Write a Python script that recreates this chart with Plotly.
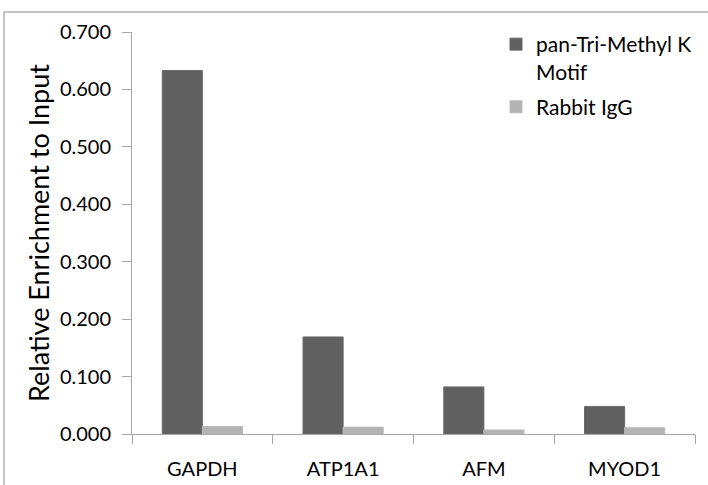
import plotly.graph_objects as go

categories = ["GAPDH", "ATP1A1", "AFM", "MYOD1"]
series_names = ["pan-Tri-Methyl K<br>Motif", "Rabbit IgG"]
pan_tri_methyl = [0.633, 0.169, 0.082, 0.048]
rabbit_igg = [0.013, 0.012, 0.007, 0.011]
y_ticks = [0.0, 0.1, 0.2, 0.3, 0.4, 0.5, 0.6, 0.7]
y_tick_labels = ["0.000", "0.100", "0.200", "0.300", "0.400", "0.500", "0.600", "0.700"]

FONT = "Lato"
AXIS_COLOR = "#a6a6a6"

fig = go.Figure()
fig.add_trace(go.Bar(x=categories, y=pan_tri_methyl, name=series_names[0], legendgroup="g1",
                     marker=dict(color="#606060", line=dict(color="#6a6a6a", width=1))))
fig.add_trace(go.Bar(x=categories, y=rabbit_igg, name=series_names[1], legendgroup="g2",
                     marker=dict(color="#b3b3b3", line=dict(color="#bbbbbb", width=1))))

L, R, T, B = 132, 13, 32, 51
W, H = 708, 485
pw = W - L - R
ph = H - T - B

fig.update_layout(
    width=W, height=H,
    margin=dict(l=L, r=R, t=T, b=B, pad=0, autoexpand=False),
    paper_bgcolor="white", plot_bgcolor="white",
    barmode="group", bargap=0.43, bargroupgap=0,
    font=dict(family=FONT, color="#000000", size=20),
    showlegend=True,
    legend=dict(x=(496 - L) / pw, y=(H - B - 24) / ph, xanchor="left", yanchor="top",
                font=dict(family=FONT, size=21, color="#000000"),
                bgcolor="rgba(0,0,0,0)", valign="top", tracegroupgap=5,
                itemwidth=30),
    xaxis=dict(type="category", showline=True, linecolor=AXIS_COLOR, linewidth=1,
               ticks="outside", tickson="boundaries", ticklen=9, tickcolor=AXIS_COLOR,
               tickfont=dict(family=FONT, size=20), showgrid=False, zeroline=False,
               ticklabelstandoff=17, automargin=False),
    yaxis=dict(range=[0, 0.7], tickvals=y_ticks, ticktext=y_tick_labels,
               showline=True, linecolor=AXIS_COLOR, linewidth=1,
               ticks="outside", ticklen=9, tickcolor=AXIS_COLOR,
               tickfont=dict(family=FONT, size=20), showgrid=False, zeroline=False,
               ticklabelstandoff=7, automargin=False,
               title=dict(text="Relative Enrichment to Input",
                          font=dict(family=FONT, size=27), standoff=2)),
)

# outer frame (top and left edges visible)
x0 = (4 - L) / pw
x1 = (W - L) / pw
ytop = (H - B - 12) / ph
ybot = (H - B - H) / ph
fig.add_shape(type="line", xref="paper", yref="paper", x0=x0, x1=x1, y0=ytop, y1=ytop,
              line=dict(color="#8c8c8c", width=1))
fig.add_shape(type="line", xref="paper", yref="paper", x0=x0, x1=x0, y0=ytop, y1=ybot,
              line=dict(color="#8c8c8c", width=1))

fig.write_html("out.html", config={"displayModeBar": False},
               post_script="document.body.style.margin='0px';")
